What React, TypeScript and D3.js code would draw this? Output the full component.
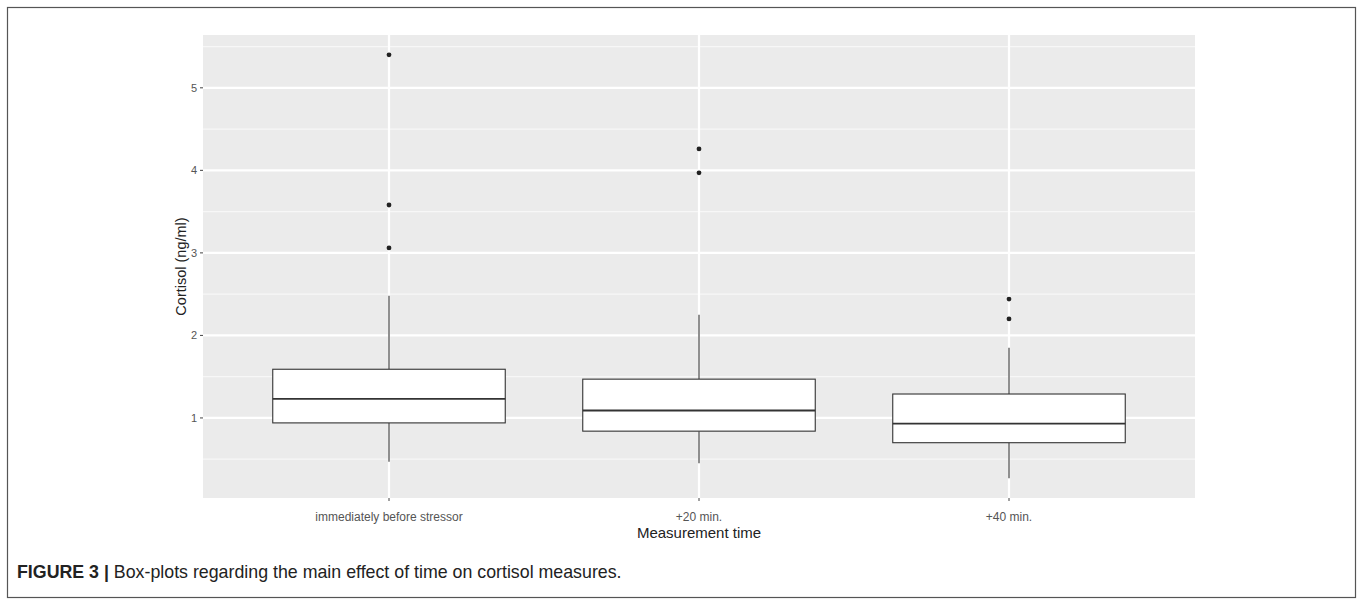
import React from "react";
import * as d3 from "d3";

const categories = ["immediately before stressor", "+20 min.", "+40 min."];
const lowerWhisker = [0.47, 0.45, 0.27];
const q1Values = [0.94, 0.84, 0.7];
const medians = [1.23, 1.09, 0.93];
const q3Values = [1.59, 1.47, 1.29];
const upperWhisker = [2.48, 2.25, 1.85];
const outliers = [
  [5.4, 3.58, 3.06],
  [4.26, 3.97],
  [2.44, 2.2],
];
const yTicks = [1, 2, 3, 4, 5];
const yMinor = [0.5, 1.5, 2.5, 3.5, 4.5, 5.5];
const yDomain = [0.03, 5.64];

export default function App() {
  const W = 1360;
  const H = 606;
  const panel = { left: 203, right: 1195, top: 35, bottom: 498 };

  const x = d3
    .scalePoint<string>()
    .domain(categories)
    .range([panel.left, panel.right])
    .padding(0.6);
  const step = x.step();
  const cx = (i: number) => x(categories[i]) as number;
  const boxW = 0.75 * step;

  const y = d3.scaleLinear().domain(yDomain).range([panel.bottom, panel.top]);

  const tickColor = "#555555";
  const font = "'Liberation Sans', Arial, Helvetica, sans-serif";

  return (
    <svg
      width={W}
      height={H}
      style={{ position: "absolute", left: 0, top: 0, display: "block" }}
      fontFamily={font}
    >
      <rect x={0} y={0} width={W} height={H} fill="#fff" />
      <rect x={7.5} y={7.5} width={1348} height={590} fill="none" stroke="#555" strokeWidth={1.2} />

      {/* panel */}
      <rect
        x={panel.left}
        y={panel.top}
        width={panel.right - panel.left}
        height={panel.bottom - panel.top}
        fill="#EBEBEB"
      />
      {yMinor
        .filter((v) => y(v) >= panel.top && y(v) <= panel.bottom)
        .map((v) => (
          <line
            key={"mn" + v}
            x1={panel.left}
            x2={panel.right}
            y1={y(v)}
            y2={y(v)}
            stroke="#F7F7F7"
            strokeWidth={1.2}
          />
        ))}
      {yTicks.map((v) => (
        <line
          key={"mj" + v}
          x1={panel.left}
          x2={panel.right}
          y1={y(v)}
          y2={y(v)}
          stroke="#FFFFFF"
          strokeWidth={2.2}
        />
      ))}
      {categories.map((c, i) => (
        <line
          key={"vx" + c}
          x1={cx(i)}
          x2={cx(i)}
          y1={panel.top}
          y2={panel.bottom}
          stroke="#FFFFFF"
          strokeWidth={2.2}
        />
      ))}

      {/* boxes */}
      {categories.map((c, i) => {
        const xc = cx(i);
        return (
          <g key={"box" + c} stroke="#333333" fill="none">
            <line x1={xc} x2={xc} y1={y(upperWhisker[i])} y2={y(q3Values[i])} strokeWidth={1.1} />
            <line x1={xc} x2={xc} y1={y(q1Values[i])} y2={y(lowerWhisker[i])} strokeWidth={1.1} />
            <rect
              x={xc - boxW / 2}
              y={y(q3Values[i])}
              width={boxW}
              height={y(q1Values[i]) - y(q3Values[i])}
              fill="#FFFFFF"
              strokeWidth={1.1}
            />
            <line
              x1={xc - boxW / 2}
              x2={xc + boxW / 2}
              y1={y(medians[i])}
              y2={y(medians[i])}
              strokeWidth={1.8}
            />
            {outliers[i].map((v, k) => (
              <circle key={k} cx={xc} cy={y(v)} r={2.4} fill="#222" stroke="none" />
            ))}
          </g>
        );
      })}

      {/* y axis */}
      {yTicks.map((v) => (
        <g key={"yt" + v}>
          <line x1={panel.left - 3} x2={panel.left} y1={y(v)} y2={y(v)} stroke="#444" strokeWidth={1} />
          <text
            x={panel.left - 6}
            y={y(v)}
            dy="0.35em"
            textAnchor="end"
            fontSize={11}
            fill={tickColor}
          >
            {v}
          </text>
        </g>
      ))}
      <text
        transform={`translate(186,${(panel.top + panel.bottom) / 2}) rotate(-90)`}
        textAnchor="middle"
        fontSize={14.5}
        fill="#222"
      >
        Cortisol (ng/ml)
      </text>

      {/* x axis */}
      {categories.map((c, i) => (
        <g key={"xt" + c}>
          <line x1={cx(i)} x2={cx(i)} y1={panel.bottom} y2={panel.bottom + 3} stroke="#444" strokeWidth={1} />
          <text x={cx(i)} y={panel.bottom + 23} textAnchor="middle" fontSize={12} fill={tickColor}>
            {c}
          </text>
        </g>
      ))}
      <text
        x={(panel.left + panel.right) / 2}
        y={538}
        textAnchor="middle"
        fontSize={15}
        fill="#222"
      >
        Measurement time
      </text>

      {/* caption */}
      <text x={17} y={578} fontSize={17.8} fill="#222">
        <tspan fontWeight="bold">FIGURE 3 |</tspan>
        <tspan> Box-plots regarding the main effect of time on cortisol measures.</tspan>
      </text>
    </svg>
  );
}
